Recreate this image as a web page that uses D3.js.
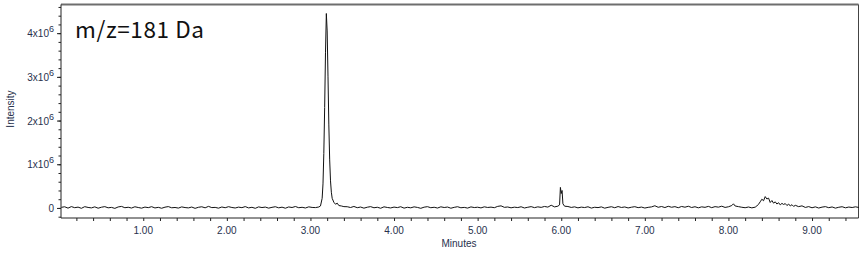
<!DOCTYPE html>
<html>
<head>
<meta charset="utf-8">
<script src="https://cdnjs.cloudflare.com/ajax/libs/d3/7.8.5/d3.min.js"></script>
<style>
  body { margin: 0; background: #fff; }
  #chartHolder { width: 865px; height: 256px; }
  .tick-label { font-family: "Liberation Sans", Arial, sans-serif; font-size: 10px; fill: #27314d; }
</style>
</head>
<body>
<div id="chartHolder"></div>
<script>
// [minutes, intensity in thousands of counts]
const baselineEarly = [
  [0.02,14],[0.06,27],[0.10,-4],[0.14,31],[0.18,6],[0.22,19],[0.26,-8],[0.30,29],[0.34,12],[0.38,1],
  [0.42,25],[0.46,-6],[0.50,17],[0.54,30],[0.58,3],[0.62,13],[0.66,-10],[0.70,23],[0.74,35],[0.78,5],
  [0.82,16],[0.86,-2],[0.90,27],[0.94,10],[0.98,-5],[1.02,20],[1.06,7],[1.10,29],[1.14,0],[1.18,14],
  [1.22,-7],[1.26,18],[1.30,31],[1.34,4],[1.38,11],[1.42,-3],[1.46,24],[1.50,9],[1.54,1],[1.58,21],
  [1.62,-9],[1.66,15],[1.70,27],[1.74,3],[1.78,36],[1.82,8],[1.86,13],[1.90,-5],[1.94,22],[1.98,5],
  [2.02,29],[2.06,11],[2.10,-1],[2.14,19],[2.18,7],[2.22,31],[2.26,1],[2.30,15],[2.34,-8],[2.38,24],
  [2.42,9],[2.46,20],[2.50,-4],[2.54,14],[2.58,28],[2.62,3],[2.66,18],[2.70,-6],[2.74,23],[2.78,10],
  [2.82,33],[2.86,5],[2.90,15],[2.94,-1],[2.98,25],[3.02,12],[3.06,8],[3.10,22]
];
const mainPeak = [
  [3.12,45],[3.14,220],[3.15,550],[3.16,1250],[3.17,2300],[3.18,3550],[3.19,4450],[3.20,4050],
  [3.21,3000],[3.22,1900],[3.23,1100],[3.24,620],[3.25,360],[3.26,220],[3.28,130],[3.30,85],
  [3.32,110],[3.34,55],[3.37,45],[3.40,30]
];
const baselineMid = [
  [3.44,28],[3.48,10],[3.52,34],[3.56,6],[3.60,21],[3.64,-5],[3.68,17],[3.72,30],[3.76,4],[3.80,16],
  [3.84,-7],[3.88,26],[3.92,11],[3.96,0],[4.00,20],[4.04,8],[4.08,28],[4.12,-4],[4.16,15],[4.20,3],
  [4.24,25],[4.28,12],[4.32,-8],[4.36,18],[4.40,29],[4.44,5],[4.48,16],[4.52,-2],[4.56,26],[4.60,10],
  [4.64,21],[4.68,-6],[4.72,14],[4.76,28],[4.80,4],[4.84,13],[4.88,-3],[4.92,24],[4.96,9],[5.00,17],
  [5.04,1],[5.08,26],[5.12,11],[5.16,19],[5.20,6],[5.24,36],[5.28,48],[5.32,14],[5.36,22],[5.40,3],
  [5.44,18],[5.48,9],[5.52,27],[5.56,-1],[5.60,16],[5.64,30],[5.68,7],[5.72,25],[5.76,13],[5.80,34],
  [5.84,19],[5.88,62],[5.92,24],[5.96,41]
];
const peakSix = [
  [5.98,70],[5.99,470],[6.00,330],[6.01,400],[6.02,95],[6.04,40]
];
const baselineLate = [
  [6.08,33],[6.12,12],[6.16,25],[6.20,2],[6.24,19],[6.28,9],[6.32,27],[6.36,-3],[6.40,16],[6.44,8],
  [6.48,24],[6.52,-5],[6.56,14],[6.60,28],[6.64,5],[6.68,32],[6.72,11],[6.76,23],[6.80,0],[6.84,17],
  [6.88,29],[6.92,7],[6.96,20],[7.00,-2],[7.04,14],[7.08,24],[7.12,50],[7.16,15],[7.20,33],[7.24,9],
  [7.28,38],[7.32,16],[7.36,30],[7.40,5],[7.44,34],[7.48,17],[7.52,39],[7.56,10],[7.60,28],[7.64,3],
  [7.68,25],[7.72,14],[7.76,36],[7.80,7],[7.84,30],[7.88,18],[7.92,40],[7.96,12],[8.00,27],[8.04,55],
  [8.06,95],[8.08,45],[8.12,30],[8.16,16],[8.20,5],[8.24,22],[8.28,2],[8.32,18]
];
const humpEight = [
  [8.34,45],[8.36,85],[8.38,140],[8.40,200],[8.42,165],[8.44,260],[8.46,205],[8.48,225],[8.50,125],
  [8.52,170],[8.54,110],[8.56,140],[8.58,90],[8.60,120],[8.62,70],[8.64,105],[8.66,80],[8.68,100],
  [8.70,55],[8.72,90],[8.74,45],[8.76,75],[8.78,35],[8.80,60]
];
const baselineEnd = [
  [8.84,30],[8.88,48],[8.92,12],[8.96,31],[9.00,4],[9.04,25],[9.08,-2],[9.12,19],[9.16,30],[9.20,6],
  [9.24,23],[9.28,-4],[9.32,16],[9.36,28],[9.40,3],[9.44,21],[9.48,10],[9.52,26],[9.56,11]
];

const xMajorTicks = [1, 2, 3, 4, 5, 6, 7, 8, 9];
const xMinorTicks = d3.range(1, 48).map(i => i * 0.2);
const yMajorTicks = [0, 1e6, 2e6, 3e6, 4e6];
const yMinorTicks = d3.range(-1, 24).map(i => i * 2e5);
const titleText = "m/z=181 Da";

const trace = [].concat(baselineEarly, mainPeak, baselineMid, peakSix, baselineLate, humpEight, baselineEnd);

const width = 865;
const height = 256;
const plotLeft = 61, plotRight = 858.5, plotTop = 4.5, plotBottom = 218;

const svg = d3.select("#chartHolder")
  .append("svg")
  .attr("width", width)
  .attr("height", height)

const xScale = d3.scaleLinear()
  .domain([0.016, 9.556])
  .range([plotLeft, plotRight])
const yScale = d3.scaleLinear()
  .domain([-230000, 4656000])
  .range([plotBottom, plotTop])

//X AXIS TICKS
svg.append("g")
  .attr("transform", `translate(0,${plotBottom})`)
  .call(d3.axisBottom(xScale).tickValues(xMinorTicks).tickSize(3).tickFormat(""))
  .call(g => g.select(".domain").remove())
  .call(g => g.selectAll("line").attr("stroke", "#222"))
svg.append("g")
  .selectAll("text")
  .data(xMajorTicks)
  .enter()
  .append("text")
  .attr("class", "tick-label")
  .attr("x", d => xScale(d))
  .attr("y", 234)
  .attr("text-anchor", "middle")
  .text(d => d.toFixed(2))

//Y AXIS TICKS
svg.append("g")
  .attr("transform", `translate(${plotLeft},0)`)
  .call(d3.axisLeft(yScale).tickValues(yMinorTicks).tickSize(2.5).tickFormat(""))
  .call(g => g.select(".domain").remove())
  .call(g => g.selectAll("line").attr("stroke", "#222"))
svg.append("g")
  .attr("transform", `translate(${plotLeft},0)`)
  .call(d3.axisLeft(yScale).tickValues(yMajorTicks).tickSize(4).tickFormat(""))
  .call(g => g.select(".domain").remove())
  .call(g => g.selectAll("line").attr("stroke", "#222"))

const yLabels = svg.append("g")
  .selectAll("text")
  .data(yMajorTicks)
  .enter()
  .append("text")
  .attr("class", "tick-label")
  .attr("x", 54)
  .attr("y", d => yScale(d) + 4)
  .attr("text-anchor", "end")
yLabels.each(function(d){
  const t = d3.select(this);
  if (d === 0) { t.text("0"); return; }
  t.append("tspan").text((d / 1e6) + "x10");
  t.append("tspan").attr("dy", -5).style("font-size", "9px").text("6");
})

//FRAME
svg.append("line").attr("x1", plotLeft).attr("x2", plotRight).attr("y1", plotTop).attr("y2", plotTop)
  .attr("stroke", "#6e6e6e").attr("stroke-width", 2)
svg.append("line").attr("x1", plotLeft).attr("x2", plotLeft).attr("y1", plotTop).attr("y2", plotBottom)
  .attr("stroke", "#222").attr("stroke-width", 1)
svg.append("line").attr("x1", plotRight).attr("x2", plotRight).attr("y1", plotTop).attr("y2", plotBottom)
  .attr("stroke", "#444").attr("stroke-width", 1)
svg.append("line").attr("x1", plotLeft).attr("x2", plotRight).attr("y1", plotBottom).attr("y2", plotBottom)
  .attr("stroke", "#222").attr("stroke-width", 1)

//TRACE
const line = d3.line()
  .x(d => xScale(d[0]))
  .y(d => yScale(d[1] * 1000))
svg.append("path")
  .datum(trace)
  .attr("fill", "none")
  .attr("stroke", "#111")
  .attr("stroke-width", 1)
  .attr("d", line)

//TEXT
svg.append("text")
  .attr("x", 75)
  .attr("y", 38)
  .style("font-family", "'Noto Sans CJK SC', 'Noto Sans', sans-serif")
  .style("font-size", "22.5px")
  .style("fill", "#111")
  .attr("textLength", 129)
  .attr("lengthAdjust", "spacing")
  .text(titleText)
svg.append("text")
  .attr("class", "tick-label")
  .attr("x", 459)
  .attr("y", 247)
  .attr("text-anchor", "middle")
  .text("Minutes")
svg.append("text")
  .attr("class", "tick-label")
  .attr("transform", "rotate(-90)")
  .attr("x", -109)
  .attr("y", 14)
  .attr("text-anchor", "middle")
  .text("Intensity")
</script>
</body>
</html>
